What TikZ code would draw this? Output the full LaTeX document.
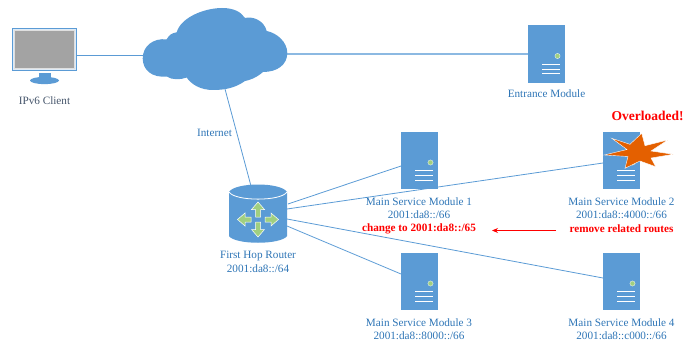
\documentclass[tikz,border=0pt]{standalone}
\usepackage{fontspec}
\setmainfont{Liberation Serif}
\usetikzlibrary{calc,arrows.meta}
\definecolor{cblue}{HTML}{5B9BD5}
\definecolor{ctext}{HTML}{2E75B6}
\definecolor{cdark}{HTML}{44546A}
\definecolor{cgreen}{HTML}{A0CF80}
\definecolor{corange}{HTML}{E46000}
\tikzset{
  serverbox/.style={fill=cblue,draw=none,minimum width=37pt,minimum height=57.5pt,inner sep=0pt,outer sep=0pt},
  link/.style={draw=cblue,line width=0.8pt},
  lbl/.style={text=ctext,font=\fontsize{11.2}{13.6}\selectfont,align=center,inner sep=0pt},
  redlbl/.style={text=red,font=\bfseries\fontsize{11.2}{13.6}\selectfont,align=center,inner sep=0pt},
  anchorbox/.style={inner sep=0pt,outer sep=0pt,draw=none}
}
\newcommand{\serverdeco}[1]{%
  \fill[cgreen,draw=white,line width=0.3pt] ($(#1.center)+(11,2)$) circle (2.6pt);
  \foreach \dy in {10,15,19.5}{\draw[white,line width=0.9pt] ($(#1.center)+(-4.5,\dy)$) -- ($(#1.center)+(13.5,\dy)$);}
}
\newcommand{\bigarrow}[3]{%
  \begin{scope}[shift={(258,219.5)},rotate=#1]
    \fill[cgreen,draw=white,line width=0.5pt] (-2.5,-#2) -- (-2.5,-#3+7.5) -- (-6.5,-#3+7.5) -- (0,-#3) -- (6.5,-#3+7.5) -- (2.5,-#3+7.5) -- (2.5,-#2) -- cycle;
  \end{scope}
}
\begin{document}
\begin{tikzpicture}[x=1pt,y=-1pt]
\useasboundingbox (0,0) rectangle (683,345);
% nodes
\node[anchorbox,minimum width=65pt,minimum height=43pt] (client) at (44.5,49.5) {};
\node[anchorbox,minimum width=144pt,minimum height=82pt] (cloud) at (215,49) {};
\node[serverbox] (entrance) at (546.5,54) {};
\node[serverbox] (m1) at (419.5,160.5) {};
\node[serverbox] (m2) at (621.5,160.5) {};
\node[serverbox] (m3) at (419.5,281.5) {};
\node[serverbox] (m4) at (621.5,281.5) {};
\node[anchorbox,minimum width=58pt,minimum height=58pt] (router) at (258,214) {};
\coordinate (cloudS) at (225,89);
\coordinate (routerT) at (251,186);
% connectors
\draw[link] (client.east |- 0,55) -- (cloud.west |- 0,55);
\draw[link,draw=cblue!70,line width=1.2pt] (cloud.east |- 0,54) -- (entrance.west |- 0,54);
\draw[link] (cloudS) -- (routerT);
\draw[link] (288,204) -- (m1.west |- 0,166);
\draw[link] (287,209) -- (m2.west |- 0,163);
\draw[link] (287,219) -- (m4.west |- 0,278);
\draw[link] (287,226) -- (m3.west |- 0,274);
% client
\fill[cblue] (12,28) rectangle (77,71);
\fill[white!80!cblue] (13,29) rectangle (76,70);
\fill[white!75!gray] (14,30) rectangle (75,69.5);
\fill[gray!72] (15,31) rectangle (74,68.5);
\fill[cblue] (39,73) rectangle (51,78);
\fill[cblue] (44.5,80.5) ellipse (14.5pt and 3.6pt);
% cloud
\fill[cblue] (142.7,58.5) .. controls (142.7,46) and (153,38) .. (166.7,39.3) .. controls (169,35) and (172,33) .. (176.7,32.3)
 .. controls (181,17) and (205,8) .. (222,8) .. controls (234,8) and (241,12) .. (245,18)
 .. controls (252,16) and (264,20) .. (266.7,31) .. controls (277,33) and (287.3,42) .. (287.3,53)
 .. controls (287.3,65) and (277,72) .. (263,72) .. controls (256,78) and (250,80) .. (245,81)
 .. controls (235,88) and (225,90) .. (213,90) .. controls (200,90) and (191,84) .. (186.7,77.5)
 .. controls (180,80) and (172,80) .. (166.7,76.5) .. controls (152,78) and (142.7,70) .. (142.7,58.5) -- cycle;
% router
\fill[cblue] (229,192) -- (229,236) .. controls (235,245) and (281,245) .. (287,236) -- (287,192) .. controls (281,182) and (235,182) .. (229,192) -- cycle;
\draw[white,line width=0.8pt] (229,192) .. controls (235,201.5) and (281,201.5) .. (287,192);
\bigarrow{90}{7}{20.5}\bigarrow{270}{7}{20.5}\bigarrow{0}{2.5}{17.5}\bigarrow{180}{2.5}{17.5}
% servers
\serverdeco{entrance}\serverdeco{m1}\serverdeco{m2}\serverdeco{m3}\serverdeco{m4}
% star
\fill[corange,draw=white,line width=0.4pt] (611.7,138.3) -- (630,144.3) -- (641.7,133.3) -- (645,145.7) -- (667.7,140) -- (651,151) -- (673.3,154.3) -- (651,158) -- (655.7,166.7) -- (640,161) -- (625,168.3) -- (628,156.5) -- (604.3,155) -- (627,149.5) -- cycle;
% labels
\node[lbl,text=cdark] (tclient) at (44.5,100.5) {IPv6 Client};
\node[lbl] (tinternet) at (214.5,133) {Internet};
\node[lbl] (tentrance) at (546.5,94) {Entrance Module};
\node[lbl] (trouter) at (258,262) {First Hop Router\\2001:da8::/64};
\node[lbl] (tm1) at (419,208) {Main Service Module 1\\2001:da8::/66};
\node[redlbl] (tm1r) at (419,228.5) {change to 2001:da8::/65};
\node[lbl] (tm2) at (621.5,208) {Main Service Module 2\\2001:da8::4000::/66};
\node[redlbl] (tm2r) at (621.5,228.5) {remove related routes};
\node[lbl] (tm3) at (419,329) {Main Service Module 3\\2001:da8::8000::/66};
\node[lbl] (tm4) at (621.5,329) {Main Service Module 4\\2001:da8::c000::/66};
\node[redlbl,font=\bfseries\fontsize{13.5}{15}\selectfont] (tover) at (647.5,116) {Overloaded!};
\coordinate (arrS) at (556,230.5);
\coordinate (arrE) at (492,230.5);
\draw[red,line width=0.9pt,-{Stealth[length=6pt,width=5pt]}] (arrS) -- (arrE);
\end{tikzpicture}
\end{document}
